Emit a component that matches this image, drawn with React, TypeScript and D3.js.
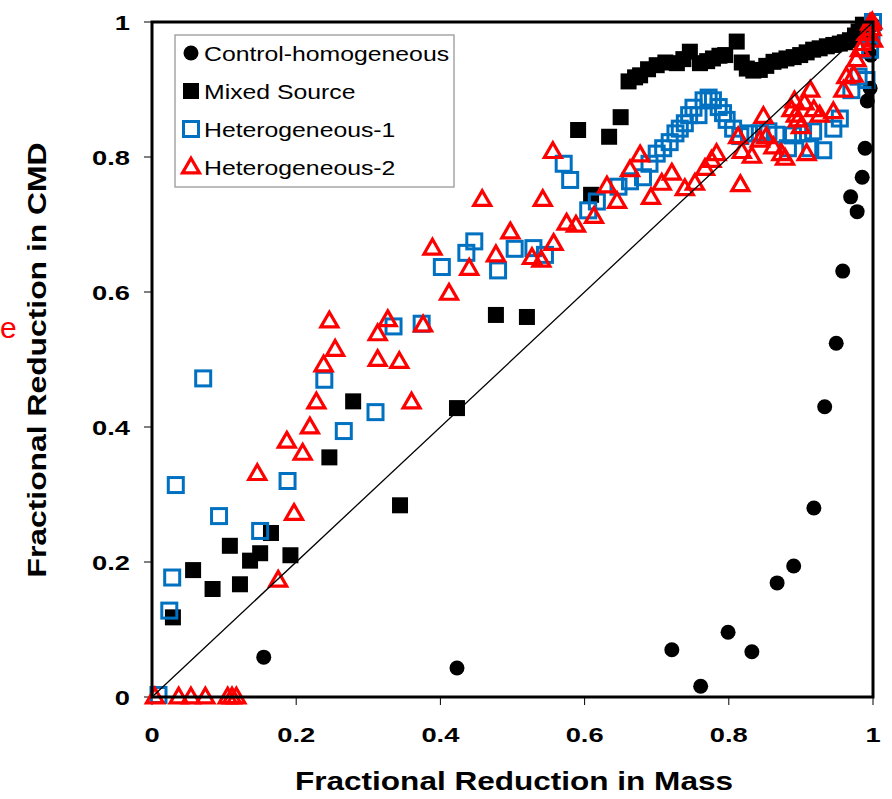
import React from "react";
import * as d3 from "d3";

// Fractional reduction in mass (x) vs fractional reduction in CMD (y)
const controlHomogeneous: [number, number][] = [
  [0.155, 0.059], [0.423, 0.043], [0.721, 0.07], [0.761, 0.016], [0.799, 0.096],
  [0.832, 0.067], [0.867, 0.169], [0.89, 0.194], [0.918, 0.28], [0.933, 0.43],
  [0.949, 0.524], [0.958, 0.631], [0.969, 0.741], [0.978, 0.719], [0.985, 0.77],
  [0.989, 0.813], [0.992, 0.883], [0.996, 0.902], [0.997, 0.951], [0.999, 0.973],
  [1.0, 0.996],
];

const mixedSource: [number, number][] = [
  [0.029, 0.118], [0.057, 0.188], [0.084, 0.16], [0.108, 0.224], [0.122, 0.167],
  [0.136, 0.202], [0.15, 0.213], [0.165, 0.243], [0.192, 0.21], [0.246, 0.355],
  [0.279, 0.438], [0.344, 0.284], [0.423, 0.428], [0.477, 0.566], [0.52, 0.563],
  [0.591, 0.84], [0.609, 0.744], [0.634, 0.83], [0.65, 0.859],
  [0.661, 0.912], [0.67, 0.918], [0.677, 0.921], [0.688, 0.93], [0.7, 0.936],
  [0.712, 0.94], [0.728, 0.939], [0.737, 0.945], [0.746, 0.956], [0.76, 0.939],
  [0.77, 0.942], [0.778, 0.946], [0.787, 0.95], [0.795, 0.951], [0.811, 0.971],
  [0.818, 0.94], [0.825, 0.931], [0.834, 0.928], [0.843, 0.929], [0.852, 0.935],
  [0.862, 0.941], [0.871, 0.943], [0.88, 0.946], [0.89, 0.948], [0.899, 0.951],
  [0.908, 0.955], [0.917, 0.959], [0.926, 0.961], [0.936, 0.964], [0.945, 0.966],
  [0.954, 0.968], [0.961, 0.97], [0.968, 0.973], [0.975, 0.98], [0.98, 0.986],
  [0.986, 0.996],
];

const heterogeneous1: [number, number][] = [
  [0.009, 0.003], [0.024, 0.128], [0.028, 0.177], [0.033, 0.314], [0.071, 0.472],
  [0.093, 0.268], [0.15, 0.246], [0.188, 0.32], [0.239, 0.47], [0.266, 0.394],
  [0.31, 0.422], [0.335, 0.549], [0.374, 0.553], [0.402, 0.637], [0.436, 0.658],
  [0.447, 0.675], [0.48, 0.632], [0.503, 0.664], [0.529, 0.665], [0.545, 0.655],
  [0.571, 0.79], [0.58, 0.766], [0.605, 0.721], [0.617, 0.734], [0.647, 0.756],
  [0.663, 0.764], [0.681, 0.77], [0.69, 0.79], [0.7, 0.805], [0.709, 0.813],
  [0.718, 0.822], [0.726, 0.835], [0.732, 0.842], [0.739, 0.85], [0.745, 0.862],
  [0.751, 0.873], [0.758, 0.862], [0.765, 0.884], [0.772, 0.888], [0.778, 0.884],
  [0.786, 0.874], [0.792, 0.865], [0.797, 0.855], [0.806, 0.842], [0.816, 0.831],
  [0.828, 0.835], [0.843, 0.835], [0.855, 0.838], [0.866, 0.833], [0.882, 0.813],
  [0.889, 0.832], [0.903, 0.835], [0.913, 0.813], [0.917, 0.838], [0.931, 0.81],
  [0.945, 0.842], [0.954, 0.857], [0.97, 0.899], [0.98, 0.919], [0.991, 0.914],
  [0.996, 0.959], [0.998, 0.985], [1.0, 1.0],
];

const heterogeneous2: [number, number][] = [
  [0.004, 0], [0.037, 0], [0.054, 0], [0.074, 0], [0.105, 0], [0.111, 0], [0.117, 0],
  [0.175, 0.173], [0.197, 0.272], [0.146, 0.331], [0.209, 0.361], [0.187, 0.379],
  [0.219, 0.4], [0.228, 0.437], [0.238, 0.492], [0.246, 0.557], [0.254, 0.515],
  [0.313, 0.5], [0.313, 0.538], [0.327, 0.559], [0.343, 0.497], [0.36, 0.437],
  [0.376, 0.551], [0.389, 0.665], [0.412, 0.598], [0.44, 0.635], [0.458, 0.737],
  [0.477, 0.655], [0.497, 0.689], [0.527, 0.651], [0.54, 0.647], [0.542, 0.737],
  [0.557, 0.672], [0.556, 0.808], [0.575, 0.702], [0.588, 0.699], [0.613, 0.712],
  [0.631, 0.757], [0.645, 0.734], [0.663, 0.781], [0.677, 0.803], [0.692, 0.74],
  [0.707, 0.761], [0.721, 0.776], [0.739, 0.753], [0.753, 0.761], [0.767, 0.783],
  [0.776, 0.795], [0.783, 0.805], [0.813, 0.83], [0.816, 0.759], [0.818, 0.808],
  [0.832, 0.801], [0.843, 0.825], [0.848, 0.86], [0.852, 0.83], [0.862, 0.815],
  [0.873, 0.805], [0.878, 0.798], [0.887, 0.87], [0.891, 0.883], [0.893, 0.862],
  [0.896, 0.855], [0.9, 0.845], [0.905, 0.88], [0.908, 0.805], [0.913, 0.899],
  [0.918, 0.87], [0.926, 0.862], [0.945, 0.867], [0.959, 0.899], [0.963, 0.919],
  [0.973, 0.921], [0.977, 0.944], [0.982, 0.959], [0.987, 0.968], [0.991, 0.983],
  [0.996, 0.998], [0.999, 1.0], [1.0, 0.973], [0.998, 0.99],
];

const xTicks = [0, 0.2, 0.4, 0.6, 0.8, 1];
const yTicks = [0, 0.2, 0.4, 0.6, 0.8, 1];
const legendLabels = ["Control-homogeneous", "Mixed Source", "Heterogeneous-1", "Heterogeneous-2"];

const W = 892;
const H = 799;
const plot = { left: 152, right: 873, top: 22, bottom: 697 };
const BLUE = "#0070C0";
const RED = "#FF0000";
const FONT = "'Liberation Sans', Arial, sans-serif";

const fmt = (v: number) => (v === 0 || v === 1 ? String(v) : v.toFixed(1));

export default function App() {
  const x = d3.scaleLinear().domain([0, 1]).range([plot.left, plot.right]);
  const y = d3.scaleLinear().domain([0, 1]).range([plot.bottom, plot.top]);
  const tri = d3.symbol().type(d3.symbolTriangle).size(125)() as string;
  const diag = d3.line<number>().x((d) => x(d)).y((d) => y(d))([0, 1]) as string;

  const circle = (cx: number, cy: number, k: string) => <circle key={k} cx={cx} cy={cy} r={7.5} fill="#000" />;
  const square = (cx: number, cy: number, k: string) => (
    <rect key={k} x={cx - 8} y={cy - 8} width={16} height={16} fill="#000" />
  );
  const openSquare = (cx: number, cy: number, k: string) => (
    <rect key={k} x={cx - 7.5} y={cy - 7.5} width={15} height={15} fill="none" stroke={BLUE} strokeWidth={3} />
  );
  const triangle = (cx: number, cy: number, k: string) => (
    <path key={k} d={tri} transform={`translate(${cx},${cy + 1})`} fill="none" stroke={RED} strokeWidth={3.2} strokeLinejoin="miter" />
  );
  const markers = [circle, square, openSquare, triangle];

  return (
    <svg width={W} height={H} style={{ position: "absolute", left: 0, top: 0, background: "#fff" }} fontFamily={FONT}>
      <rect x={0} y={0} width={W} height={H} fill="#fff" />

      {/* tick marks */}
      {yTicks.map((t) => (
        <line key={`yt${t}`} x1={plot.left - 8} x2={plot.left} y1={y(t)} y2={y(t)} stroke="#000" strokeWidth={1} />
      ))}
      {xTicks.map((t) => (
        <line key={`xt${t}`} x1={x(t)} x2={x(t)} y1={plot.bottom} y2={plot.bottom + 8} stroke="#000" strokeWidth={1} />
      ))}

      {/* series */}
      <g>{controlHomogeneous.map(([a, b], i) => circle(x(a), y(b), `c${i}`))}</g>
      <g>{mixedSource.map(([a, b], i) => square(x(a), y(b), `m${i}`))}</g>
      <g>{heterogeneous1.map(([a, b], i) => openSquare(x(a), y(b), `h1${i}`))}</g>
      <g>{heterogeneous2.map(([a, b], i) => triangle(x(a), y(b), `h2${i}`))}</g>

      {/* 1:1 reference line */}
      <path d={diag} stroke="#000" strokeWidth={1.3} fill="none" />

      {/* plot frame */}
      <rect
        x={plot.left}
        y={plot.top}
        width={plot.right - plot.left}
        height={plot.bottom - plot.top}
        fill="none"
        stroke="#000"
        strokeWidth={3}
      />

      {/* tick labels */}
      {yTicks.map((t) => (
        <text
          key={`yl${t}`}
          transform={`translate(130,${y(t) + 7.5}) scale(1.3,1)`}
          textAnchor="end"
          fontSize={21}
          fontWeight="bold"
        >
          {fmt(t)}
        </text>
      ))}
      {xTicks.map((t) => (
        <text
          key={`xl${t}`}
          transform={`translate(${x(t)},${742}) scale(1.3,1)`}
          textAnchor="middle"
          fontSize={21}
          fontWeight="bold"
        >
          {fmt(t)}
        </text>
      ))}

      {/* axis titles */}
      <text x={514} y={790} textAnchor="middle" fontSize={26} fontWeight="bold" textLength={438} lengthAdjust="spacingAndGlyphs">
        Fractional Reduction in Mass
      </text>
      <text
        transform={`translate(46,360) rotate(-90)`}
        textAnchor="middle"
        fontSize={26}
        fontWeight="bold"
        textLength={435}
        lengthAdjust="spacingAndGlyphs"
      >
        Fractional Reduction in CMD
      </text>
      <text x={0} y={338} fontSize={30} fill={RED}>
        e
      </text>

      {/* legend */}
      <g>
        <rect x={175} y={35} width={279} height={152} fill="#fff" stroke="#999" strokeWidth={1.3} />
        {legendLabels.map((label, i) => {
          const cy = 53 + i * 38;
          return (
            <g key={label}>
              {markers[i](191, cy, `lg${i}`)}
              <text transform={`translate(204,${cy + 7.5}) scale(1.18,1)`} fontSize={21}>
                {label}
              </text>
            </g>
          );
        })}
      </g>
    </svg>
  );
}
